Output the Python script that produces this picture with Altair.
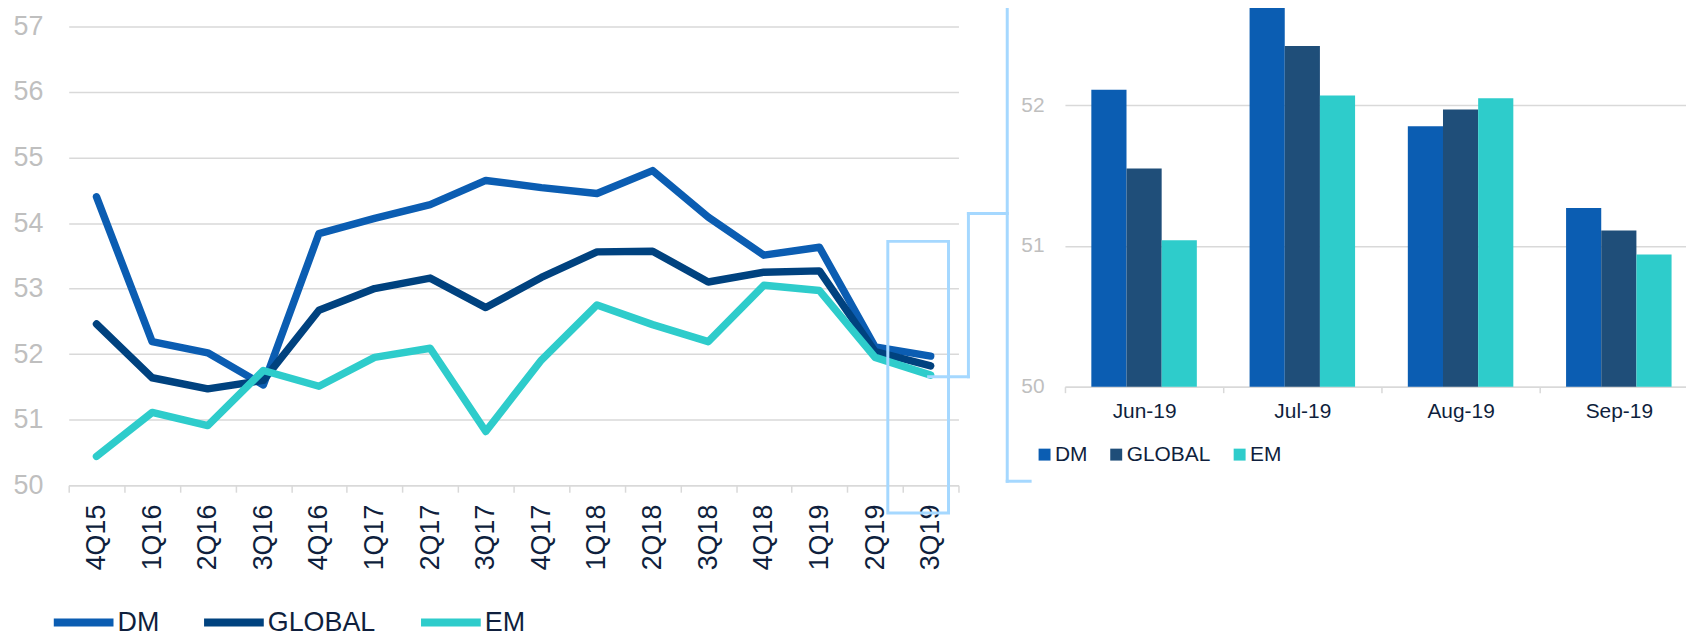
import altair as alt
import pandas as pd

# ---------------- data ----------------
quarters = ["4Q15", "1Q16", "2Q16", "3Q16", "4Q16", "1Q17", "2Q17", "3Q17",
            "4Q17", "1Q18", "2Q18", "3Q18", "4Q18", "1Q19", "2Q19", "3Q19"]
series = ["DM", "GLOBAL", "EM"]
dm_q = [54.40, 52.19, 52.02, 51.53, 53.84, 54.07, 54.28, 54.65,
        54.54, 54.45, 54.80, 54.09, 53.51, 53.63, 52.11, 51.97]
global_q = [52.46, 51.64, 51.47, 51.60, 52.67, 53.00, 53.16, 52.71,
            53.17, 53.56, 53.57, 53.10, 53.25, 53.27, 52.04, 51.82]
em_q = [50.44, 51.11, 50.91, 51.75, 51.51, 51.95, 52.09, 50.82,
        51.91, 52.75, 52.45, 52.19, 53.05, 52.97, 51.95, 51.68]

months = ["Jun-19", "Jul-19", "Aug-19", "Sep-19"]
dm_m = [52.11, 52.80, 51.85, 51.27]
global_m = [51.55, 52.42, 51.97, 51.11]
em_m = [51.04, 52.07, 52.05, 50.94]

line_ticks = [50, 51, 52, 53, 54, 55, 56, 57]
bar_ticks = [50, 51, 52]

line_colors = ["#0B5DB2", "#00427F", "#2ECCCB"]
bar_colors = ["#0B5DB2", "#1F4E79", "#2ECCCB"]

q_df = pd.DataFrame({
    "quarter": quarters * 3,
    "series": [s for s in series for _ in quarters],
    "value": dm_q + global_q + em_q,
})
m_df = pd.DataFrame({
    "month": months * 3,
    "series": [s for s in series for _ in months],
    "value": dm_m + global_m + em_m,
})
one = pd.DataFrame({"k": [0]})

# ---------------- style ----------------
W, H = 1686, 627
FONT = "Liberation Sans"
GRID = "#d9d9d9"
LIGHT = "#a5d8ff"
DARK_TXT = "#0f1f3d"
GRAY_TXT = "#bfbfbf"

lines = alt.Chart(q_df).mark_line(strokeWidth=7.5, strokeCap="round", strokeJoin="round").encode(
    x=alt.X("quarter:N", sort=quarters, bandPosition=0.5,
            scale=alt.Scale(type="band", domain=quarters, range=[61, 955], paddingInner=0, paddingOuter=0),
            axis=alt.Axis(orient="bottom", offset=-(H - 478), title=None, labelAngle=-90,
                          labelFontSize=27, labelColor=DARK_TXT, labelFont=FONT, labelPadding=12,
                          tickSize=7, tickColor=GRID, tickWidth=1.5, domainColor=GRID, domainWidth=1.5,
                          tickBand="extent", grid=False)),
    y=alt.Y("value:Q", scale=alt.Scale(domain=[50, 57], range=[478, 17], nice=False, zero=False),
            axis=alt.Axis(orient="left", offset=-61, title=None, values=line_ticks, grid=True,
                          gridColor=GRID, gridWidth=1.5, domain=False, ticks=False,
                          labelFontSize=27, labelColor=GRAY_TXT, labelFont=FONT, labelPadding=26)),
    color=alt.Color("series:N", sort=series,
                    scale=alt.Scale(domain=series, range=line_colors),
                    legend=alt.Legend(orient="none", legendX=42, legendY=582, direction="horizontal",
                                      title=None, symbolType="stroke", symbolStrokeWidth=8,
                                      symbolSize=3600, labelFontSize=27, labelColor=DARK_TXT,
                                      labelFont=FONT, columnPadding=29, labelOffset=0, padding=0)),
)

bars = alt.Chart(m_df).mark_bar().encode(
    x=alt.X("month:N", sort=months,
            scale=alt.Scale(domain=months, range=[1062, 1698], paddingInner=0, paddingOuter=0),
            axis=alt.Axis(orient="bottom", offset=-(H - 379), title=None, labelAngle=0,
                          labelFontSize=21, labelColor=DARK_TXT, labelFont=FONT, labelPadding=8,
                          tickSize=6, tickColor=GRID, tickWidth=1.5, domainColor=GRID, domainWidth=1.5,
                          tickBand="extent", grid=False)),
    xOffset=alt.XOffset("series:N", sort=series,
                        scale=alt.Scale(domain=series, paddingOuter=0.75, paddingInner=0)),
    y=alt.Y("value:Q", scale=alt.Scale(domain=[50, 53], range=[379, 379 - 3 * 141.4], nice=False, zero=False),
            axis=alt.Axis(orient="left", offset=-1062, title=None, values=bar_ticks, grid=True,
                          gridColor=GRID, gridWidth=1.5, domain=False, ticks=False,
                          labelFontSize=21, labelColor=GRAY_TXT, labelFont=FONT, labelPadding=21)),
    y2=alt.datum(50),
    color=alt.Color("series:N", sort=series,
                    scale=alt.Scale(domain=series, range=bar_colors),
                    legend=alt.Legend(orient="none", legendX=1031, legendY=436.5, direction="horizontal",
                                      title=None, symbolType="square", symbolSize=144,
                                      symbolStrokeWidth=0, labelFontSize=21, labelColor=DARK_TXT,
                                      labelFont=FONT, columnPadding=18, labelOffset=0, padding=0)),
)

# ---------------- call-out annotation (light blue box, connector, bracket) ----------------
box = alt.Chart(one).mark_rect(filled=False, stroke=LIGHT, strokeWidth=3).encode(
    x=alt.value(884), x2=alt.value(945), y=alt.value(233), y2=alt.value(506))

def hrule(x1, x2, y):
    return alt.Chart(one).mark_rule(stroke=LIGHT, strokeWidth=3, strokeCap="square").encode(
        x=alt.value(x1), x2=alt.value(x2), y=alt.value(y))

def vrule(x, y1, y2):
    return alt.Chart(one).mark_rule(stroke=LIGHT, strokeWidth=3, strokeCap="square").encode(
        x=alt.value(x), y=alt.value(y1), y2=alt.value(y2))

connector = [hrule(925, 965, 369), vrule(965, 205, 369), hrule(965, 1004, 205),
             vrule(1004, -10, 474), hrule(1004, 1027, 474)]

chart = alt.layer(lines, bars, box, *connector).resolve_scale(
    x="independent", y="independent", color="independent"
).resolve_axis(
    x="independent", y="independent"
).resolve_legend(
    color="independent"
).properties(
    width=W, height=H, padding=0, autosize=alt.AutoSizeParams(type="none")
).configure(font=FONT).configure_view(strokeWidth=0)

chart.save("out.html", embed_options={"renderer": "svg", "actions": False})
